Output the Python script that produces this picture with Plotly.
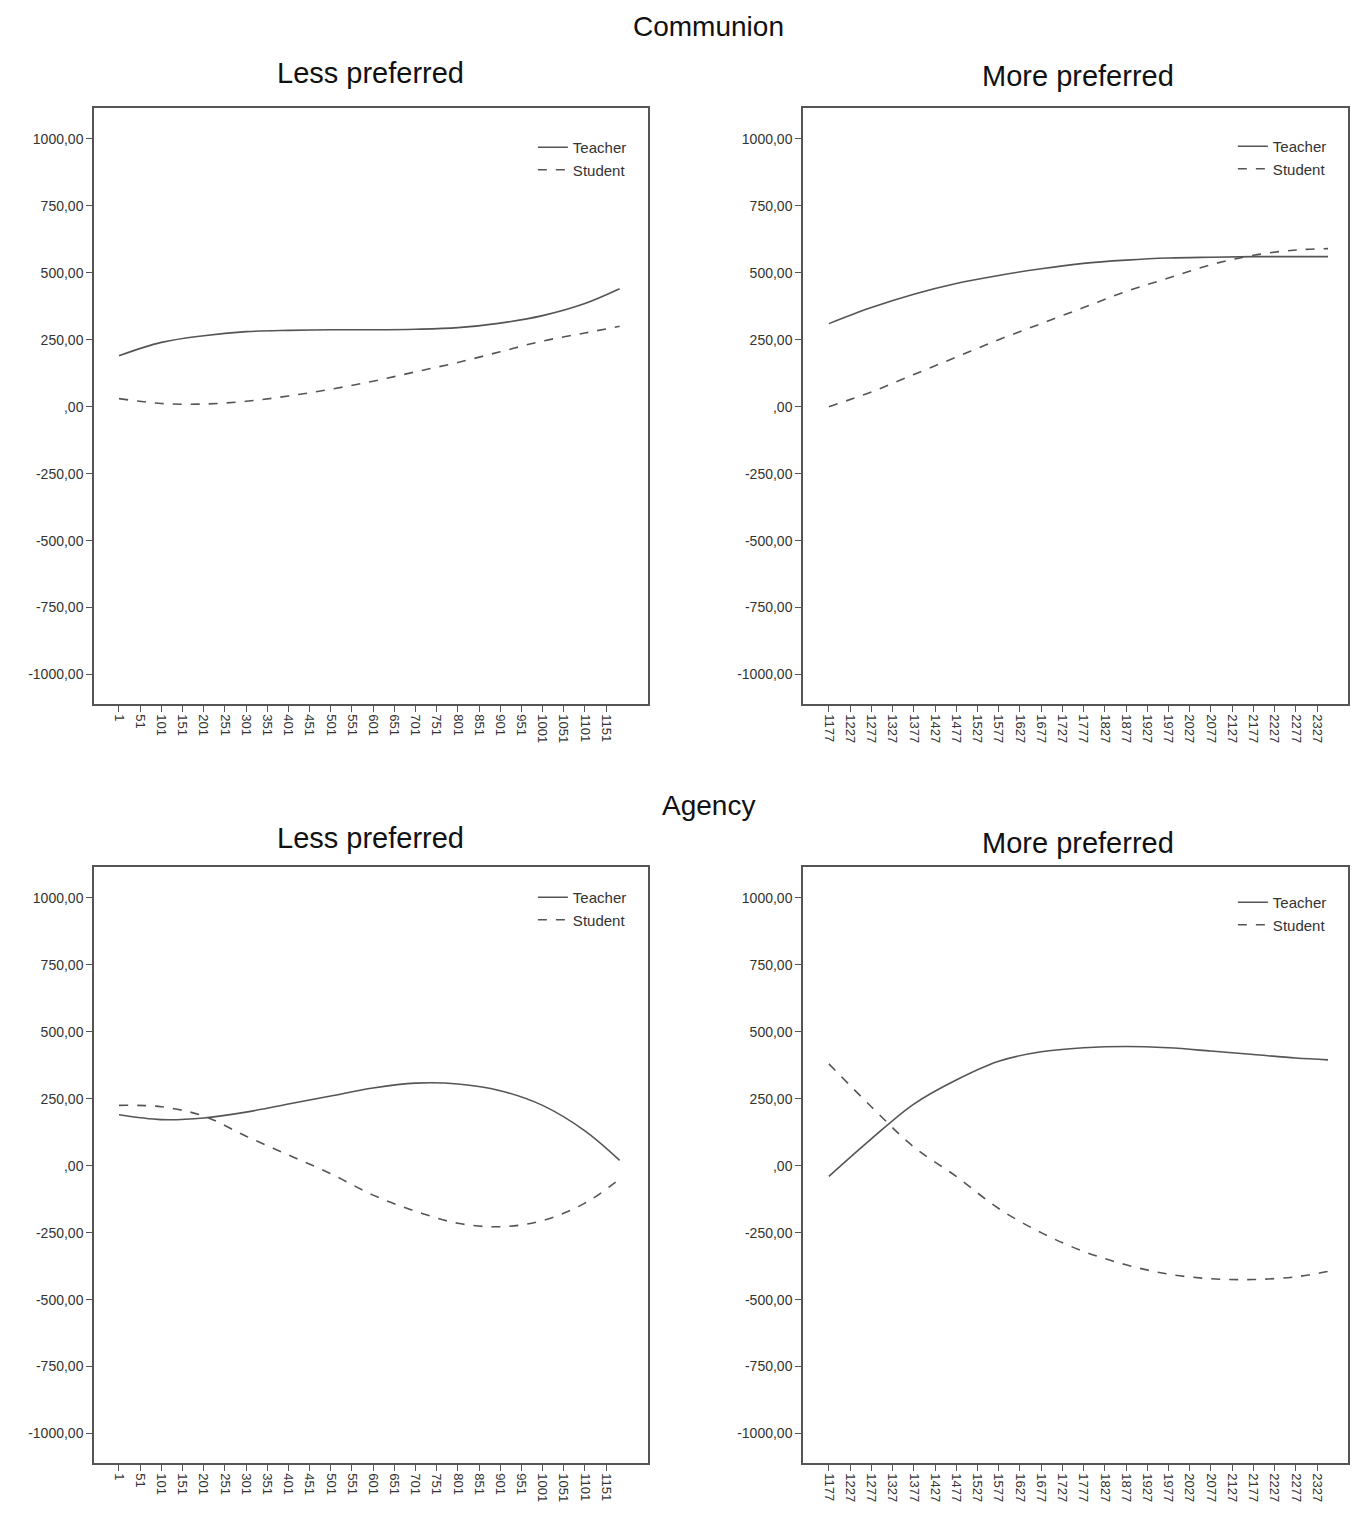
import plotly.graph_objects as go

# Communion - Less preferred
cl_x = [1, 101, 201, 301, 401, 501, 601, 701, 801, 901, 1001, 1101, 1183]
cl_teacher = [190, 240, 265, 280, 285, 287, 287, 289, 295, 312, 340, 385, 440]
cl_student = [30, 12, 10, 20, 40, 65, 95, 130, 165, 205, 245, 275, 300]
# Communion - More preferred
cm_x = [1177, 1277, 1377, 1477, 1577, 1677, 1777, 1877, 1977, 2077, 2177, 2277, 2353]
cm_teacher = [310, 370, 420, 460, 490, 515, 535, 547, 555, 558, 560, 560, 560]
cm_student = [0, 55, 120, 185, 250, 310, 370, 430, 480, 530, 565, 585, 590]
# Agency - Less preferred
al_x = [1, 101, 201, 301, 401, 501, 601, 701, 801, 901, 1001, 1101, 1183]
al_teacher = [190, 172, 178, 200, 230, 260, 290, 308, 305, 280, 225, 130, 20]
al_student = [225, 220, 185, 110, 40, -30, -110, -170, -215, -228, -205, -140, -50]
# Agency - More preferred
am_x = [1177, 1277, 1377, 1477, 1577, 1677, 1777, 1877, 1977, 2077, 2177, 2277, 2353]
am_teacher = [-40, 100, 230, 320, 390, 425, 440, 445, 440, 428, 415, 402, 395]
am_student = [380, 220, 70, -40, -160, -250, -320, -370, -405, -422, -425, -415, -395]

left_ticks = list(range(1, 1152, 50))
right_ticks = list(range(1177, 2328, 50))
y_ticks = [-1000, -750, -500, -250, 0, 250, 500, 750, 1000]
y_labels = ["-1000,00", "-750,00", "-500,00", "-250,00", ",00", "250,00", "500,00", "750,00", "1000,00"]

W, H, OFF = 1344, 1501, 8
def px(p):
    return (p - OFF) / W
def py(p):
    return 1 - (p - OFF) / H

fig = go.Figure()
FONT = "Liberation Sans, Arial, sans-serif"
LC = "#555555"

xl = [px(94), px(648)]
xr_ = [px(803), px(1348)]
yt = [py(704), py(108)]
yb = [py(1463), py(867)]

panels = [
    ("x", "y", cl_x, cl_teacher, cl_student, "legend", xl, yt, left_ticks, [-58, 1250], 143),
    ("x2", "y2", cm_x, cm_teacher, cm_student, "legend2", xr_, yt, right_ticks, [1116, 2400], 142),
    ("x3", "y3", al_x, al_teacher, al_student, "legend3", xl, yb, left_ticks, [-58, 1250], 893),
    ("x4", "y4", am_x, am_teacher, am_student, "legend4", xr_, yb, right_ticks, [1116, 2400], 898),
]

layout = {}
for i, (xa, ya, xs, t, s, lg, xd, yd, xt, xrng, legy) in enumerate(panels):
    fig.add_trace(go.Scatter(x=xs, y=t, mode="lines", name="Teacher", xaxis=xa, yaxis=ya,
                             line=dict(color="#555555", width=1.6, shape="spline"), legend=lg))
    fig.add_trace(go.Scatter(x=xs, y=s, mode="lines", name="Student", xaxis=xa, yaxis=ya,
                             line=dict(color="#555555", width=1.6, dash="dash", shape="spline"), legend=lg))
    sfx = "" if i == 0 else str(i + 1)
    layout["xaxis" + sfx] = dict(domain=xd, anchor=ya, range=xrng, tickvals=xt, ticktext=[str(v) for v in xt],
                                 tickangle=90, ticks="outside", ticklen=6, tickcolor=LC, showgrid=False,
                                 zeroline=False, showline=True, linecolor=LC, linewidth=1.5, mirror=True,
                                 tickfont=dict(size=13, color="#333", family=FONT))
    layout["yaxis" + sfx] = dict(domain=yd, anchor=xa, range=[-1110, 1115], tickvals=y_ticks, ticktext=y_labels,
                                 ticks="outside", ticklen=6, tickcolor=LC, showgrid=False, zeroline=False,
                                 showline=True, linecolor=LC, linewidth=1.5, mirror=True,
                                 tickfont=dict(size=14, color="#333", family=FONT))
    layout[lg] = dict(x=xd[1] - 0.012, y=py(legy - 12), xanchor="right", yanchor="top", bgcolor="rgba(0,0,0,0)",
                      font=dict(size=15, color="#333", family=FONT), tracegroupgap=0, itemwidth=30)

fig.update_layout(**layout)
fig.update_layout(width=W, height=H, margin=dict(l=0, r=0, t=0, b=0),
                  paper_bgcolor="white", plot_bgcolor="white", showlegend=True,
                  font=dict(family=FONT))

ann = [
    ("Communion", 708, 22, 28),
    ("Less preferred", 370, 73, 29),
    ("More preferred", 1078, 76, 29),
    ("Agency", 708, 805, 28),
    ("Less preferred", 370, 838, 29),
    ("More preferred", 1078, 843, 29),
]
for txt, x, y, sz in ann:
    fig.add_annotation(text=txt, x=px(x), y=min(py(y), 0.995) if txt != "Communion" else 0.9995,
                       xref="paper", yref="paper", showarrow=False,
                       xanchor="center", yanchor="middle" if txt != "Communion" else "top",
                       font=dict(size=sz, color="#111", family=FONT))

fig.write_html("out.html")
